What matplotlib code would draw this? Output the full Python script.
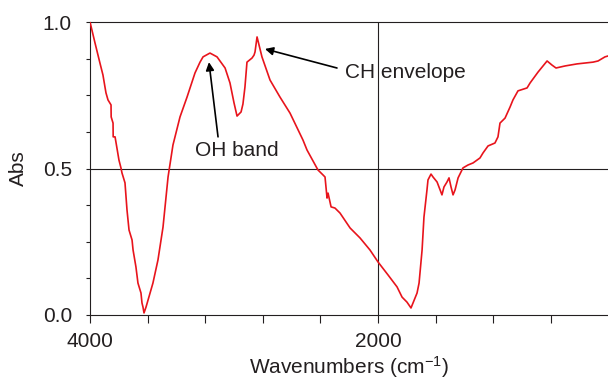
import numpy as np
import matplotlib.pyplot as plt
from matplotlib.ticker import FixedLocator, FixedFormatter

plt.rcParams['font.family'] = ['Liberation Sans', 'DejaVu Sans']
plt.rcParams['mathtext.fontset'] = 'custom'
plt.rcParams['mathtext.rm'] = 'Liberation Sans'
plt.rcParams['mathtext.it'] = 'Liberation Sans:italic'

# spectrum (wavenumber in cm-1, absorbance)
wavenumber = [4000, 3965, 3931, 3910, 3896, 3889, 3875, 3854, 3853, 3840, 3839, 3826,
              3813, 3799, 3785, 3778, 3757, 3743, 3729, 3708, 3701, 3681, 3667, 3646,
              3639, 3632, 3625, 3611, 3597, 3563, 3528, 3493, 3458, 3424, 3375, 3326,
              3271, 3236, 3215, 3167, 3118, 3062, 3028, 3000, 2979, 2951, 2938, 2924,
              2910, 2875, 2861, 2854, 2840, 2806, 2750, 2681, 2611, 2521, 2493, 2417,
              2382, 2368, 2354, 2347, 2326, 2299, 2264, 2194, 2125, 2056, 2000, 1931,
              1868, 1833, 1799, 1771, 1757, 1729, 1715, 1694, 1681, 1660, 1653, 1632,
              1618, 1590, 1569, 1556, 1542, 1521, 1507, 1493, 1479, 1465, 1444, 1410,
              1375, 1340, 1292, 1271, 1236, 1188, 1167, 1153, 1118, 1083, 1063, 1028,
              965, 944, 889, 826, 792, 764, 701, 618, 507, 472, 424, 403]
absorbance = [1.000, 0.928, 0.860, 0.819, 0.778, 0.758, 0.734, 0.717, 0.676, 0.655, 0.608, 0.608,
              0.570, 0.529, 0.502, 0.485, 0.451, 0.358, 0.290, 0.256, 0.222, 0.164, 0.109, 0.075,
              0.041, 0.027, 0.007, 0.027, 0.051, 0.109, 0.188, 0.300, 0.471, 0.580, 0.676, 0.744,
              0.826, 0.863, 0.881, 0.894, 0.881, 0.843, 0.792, 0.724, 0.679, 0.693, 0.720, 0.778,
              0.863, 0.877, 0.887, 0.898, 0.949, 0.881, 0.802, 0.744, 0.689, 0.597, 0.563, 0.495,
              0.478, 0.471, 0.399, 0.416, 0.369, 0.365, 0.348, 0.297, 0.263, 0.222, 0.181, 0.137,
              0.096, 0.061, 0.044, 0.024, 0.041, 0.075, 0.109, 0.222, 0.334, 0.427, 0.461, 0.481,
              0.471, 0.454, 0.427, 0.410, 0.437, 0.454, 0.468, 0.437, 0.410, 0.427, 0.468, 0.502,
              0.512, 0.519, 0.536, 0.553, 0.577, 0.587, 0.608, 0.655, 0.672, 0.710, 0.734, 0.765,
              0.775, 0.792, 0.829, 0.867, 0.853, 0.843, 0.850, 0.857, 0.863, 0.867, 0.881, 0.884]

xticks_major = [4000, 2000]
xticks_minor = [3600, 3200, 2800, 2400, 1600, 1200, 800]
yticks_major = [0.0, 0.5, 1.0]
yticks_minor = [0.125, 0.25, 0.375, 0.625, 0.75, 0.875]

ink = '#231f20'

fig = plt.figure(figsize=(6.08, 3.81), dpi=100)
ax = fig.add_axes([90 / 608, 1 - 315 / 381, 518 / 608, 293 / 381])

ax.axhline(0.5, color=ink, lw=0.8, zorder=1)
ax.axvline(2000, color=ink, lw=0.8, zorder=1)
ax.plot(wavenumber, absorbance, color='#e8141c', lw=1.2, zorder=3)

ax.set_xlim(4000, 403)
ax.set_ylim(0, 1.0)
ax.xaxis.set_major_locator(FixedLocator(xticks_major))
ax.xaxis.set_minor_locator(FixedLocator(xticks_minor))
ax.xaxis.set_major_formatter(FixedFormatter(['4000', '2000']))
ax.yaxis.set_major_locator(FixedLocator(yticks_major))
ax.yaxis.set_minor_locator(FixedLocator(yticks_minor))
ax.yaxis.set_major_formatter(FixedFormatter(['0.0', '0.5', '1.0']))

ax.tick_params(axis='x', which='both', direction='out', length=6, width=0.8,
               color=ink, labelsize=15, labelcolor=ink, pad=6)
ax.tick_params(axis='y', which='both', direction='out', length=3, width=0.8,
               color=ink, labelsize=15, labelcolor=ink, pad=10)

for side in ['top', 'left', 'bottom']:
    ax.spines[side].set_color(ink)
    ax.spines[side].set_linewidth(0.8)
ax.spines['right'].set_visible(False)

ax.set_xlabel('Wavenumbers (cm$^{\\mathrm{-1}}$)', fontsize=15, color=ink)
ax.set_ylabel('Abs', fontsize=15, color=ink)
ax.xaxis.set_label_coords(0.5, -0.135)
ax.yaxis.set_label_coords(-0.12, 0.5)

arrow = dict(arrowstyle='-|>', color='black', lw=1.2, mutation_scale=12, shrinkA=0, shrinkB=0)
ax.annotate('', xy=(3174, 0.863), xytext=(3111, 0.608), arrowprops=arrow)
ax.text(2979, 0.563, 'OH band', fontsize=15, color=ink, ha='center', va='center')
ax.annotate('', xy=(2785, 0.908), xytext=(2285, 0.843), arrowprops=arrow)
ax.text(2229, 0.829, 'CH envelope', fontsize=15, color=ink, ha='left', va='center')

fig.savefig('out.png', dpi=100)
